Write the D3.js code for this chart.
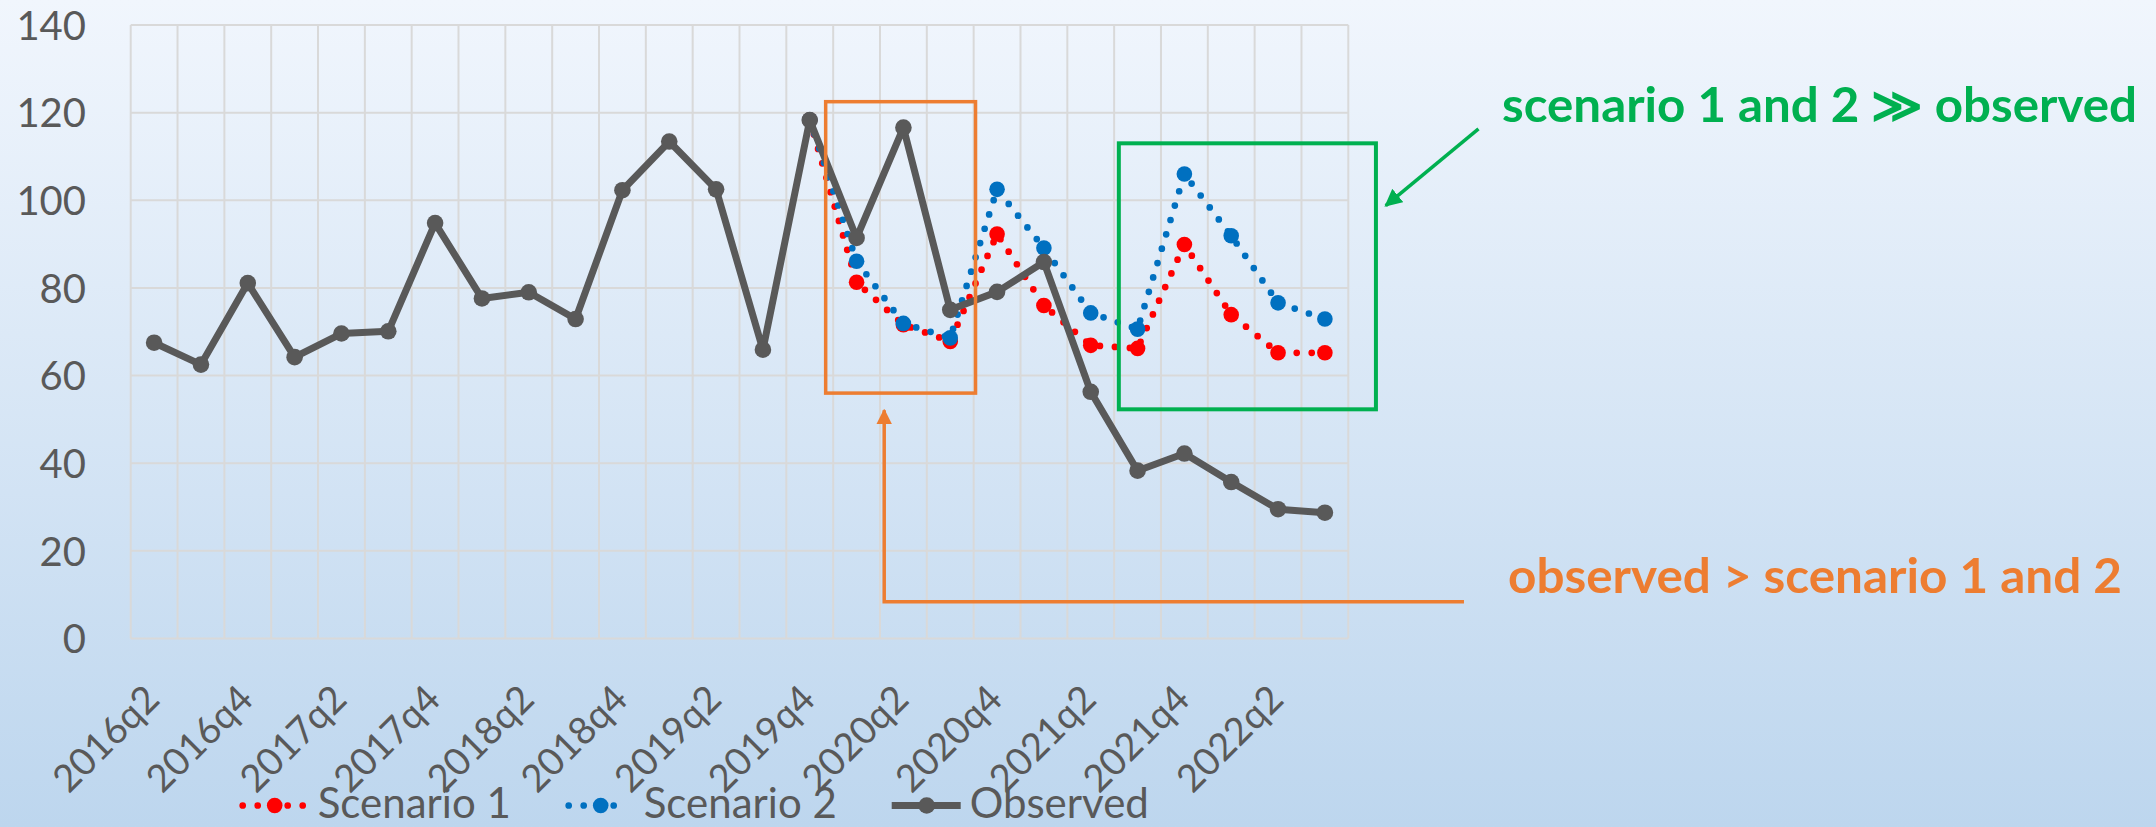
<!DOCTYPE html>
<html>
<head>
<meta charset="utf-8">
<script src="https://cdn.jsdelivr.net/npm/d3@7"></script>
<style>
  html, body { margin: 0; padding: 0; overflow: hidden; }
  svg { display: block; }
</style>
</head>
<body>
<script>
// ---------------- data ----------------
const categories = ['2016q2','2016q3','2016q4','2017q1','2017q2','2017q3','2017q4',
  '2018q1','2018q2','2018q3','2018q4','2019q1','2019q2','2019q3','2019q4',
  '2020q1','2020q2','2020q3','2020q4','2021q1','2021q2','2021q3','2021q4',
  '2022q1','2022q2','2022q3'];
const observed  = [67.5, 62.5, 81.1, 64.2, 69.6, 70.1, 94.8, 77.6, 79.0, 72.9, 102.3, 113.4, 102.5,
  65.9, 118.3, 91.4, 116.6, 75.0, 79.1, 85.9, 56.3, 38.3, 42.2, 35.7, 29.5, 28.7];
const scenario1 = [null,null,null,null,null,null,null,null,null,null,null,null,null,null,
  118.3, 81.3, 71.6, 67.8, 92.3, 76.0, 66.9, 66.2, 89.9, 73.9, 65.2, 65.2];
const scenario2 = [null,null,null,null,null,null,null,null,null,null,null,null,null,null,
  118.3, 86.1, 71.9, 68.6, 102.5, 89.1, 74.3, 70.6, 106.0, 91.9, 76.6, 72.9];
const yTicks = [0, 20, 40, 60, 80, 100, 120, 140];
const xTickLabels = categories.filter((d, i) => i % 2 === 0);
const seriesNames = ['Scenario 1', 'Scenario 2', 'Observed'];

// annotations in data units: x = category position (0..n), y = value
const orangeBox = {x0: 14.84, x1: 18.04, y0: 122.5, y1: 56.0};
const greenBox  = {x0: 21.10, x1: 26.59, y0: 113.0, y1: 52.3};
const orangeArrow = [[28.47, 8.4], [16.09, 8.4], [16.09, 52.1]];
const greenArrow  = [[28.78, 116.3], [26.80, 98.8]];

// ---------------- layout ----------------
const W = 2156, H = 827;
const plot = {left: 130.7, right: 1348.3, top: 25, bottom: 638.5};
const textColor = '#595959';
const font = 'Lato, Calibri, Carlito, sans-serif';

const svg = d3.select('body').append('svg').attr('width', W).attr('height', H);

const defs = svg.append('defs');
const grad = defs.append('linearGradient').attr('id', 'bg').attr('x1', 0).attr('y1', 0).attr('x2', 0).attr('y2', 1);
grad.append('stop').attr('offset', '0%').attr('stop-color', '#f1f6fd');
grad.append('stop').attr('offset', '100%').attr('stop-color', '#bdd6ee');
svg.append('rect').attr('width', W).attr('height', H).attr('fill', 'url(#bg)');

const xc = d3.scaleLinear().domain([0, categories.length]).range([plot.left, plot.right]);
const x = i => xc(i + 0.5);
const y = d3.scaleLinear().domain([0, 140]).range([plot.bottom, plot.top]);

// grid
const grid = svg.append('g').attr('stroke', '#d9d9d9').attr('stroke-width', 2);
grid.selectAll('line.h').data(yTicks).join('line')
  .attr('x1', plot.left).attr('x2', plot.right)
  .attr('y1', d => y(d)).attr('y2', d => y(d));
grid.selectAll('line.v').data(d3.range(categories.length + 1)).join('line')
  .attr('x1', d => xc(d)).attr('x2', d => xc(d))
  .attr('y1', plot.top).attr('y2', plot.bottom);

// y axis labels
const yAxis = d3.axisLeft(y).tickValues(yTicks).tickSize(0).tickPadding(0);
const gy = svg.append('g').attr('transform', `translate(86,0)`).call(yAxis);
gy.select('.domain').remove();
gy.selectAll('text').attr('font-family', font).attr('font-size', 40).attr('fill', textColor)
  .attr('dy', null).attr('dominant-baseline', 'auto').attr('y', 14.3);

// x axis labels
const xBand = d3.scalePoint().domain(categories).range([x(0), x(categories.length - 1)]);
const xAxis = d3.axisBottom(xBand).tickValues(xTickLabels).tickSize(0).tickPadding(0);
const gx = svg.append('g').attr('transform', `translate(0,${plot.bottom})`).call(xAxis);
gx.select('.domain').remove();
gx.selectAll('text').attr('font-family', font).attr('font-size', 38).attr('fill', textColor)
  .attr('text-anchor', 'end').attr('dy', null).attr('y', 0)
  .attr('transform', 'translate(7,63) rotate(-45)');

// lines
const lineGen = d3.line().defined(d => d != null).x((d, i) => x(i)).y(d => y(d));
const series = [
  {name: seriesNames[0], values: scenario1, color: '#ff0000', dotted: true, r: 7.8, w: 6.7},
  {name: seriesNames[1], values: scenario2, color: '#0070c0', dotted: true, r: 7.8, w: 6.7},
  {name: seriesNames[2], values: observed,  color: '#595959', dotted: false, r: 8.3, w: 7}
];
series.forEach(s => {
  const g = svg.append('g');
  g.append('path').attr('d', lineGen(s.values)).attr('fill', 'none')
    .attr('stroke', s.color).attr('stroke-width', s.w)
    .attr('stroke-linecap', 'round').attr('stroke-linejoin', 'round')
    .attr('stroke-dasharray', s.dotted ? '0 15' : null);
  g.selectAll('circle').data(s.values.map((v, i) => ({v, i})).filter(d => d.v != null)).join('circle')
    .attr('cx', d => x(d.i)).attr('cy', d => y(d.v)).attr('r', s.r).attr('fill', s.color);
});

// annotations
const orange = '#ed7d31', green = '#00b050';
svg.append('rect')
  .attr('x', xc(orangeBox.x0)).attr('y', y(orangeBox.y0))
  .attr('width', xc(orangeBox.x1) - xc(orangeBox.x0)).attr('height', y(orangeBox.y1) - y(orangeBox.y0))
  .attr('fill', 'none').attr('stroke', orange).attr('stroke-width', 3.5);
svg.append('rect')
  .attr('x', xc(greenBox.x0)).attr('y', y(greenBox.y0))
  .attr('width', xc(greenBox.x1) - xc(greenBox.x0)).attr('height', y(greenBox.y1) - y(greenBox.y0))
  .attr('fill', 'none').attr('stroke', green).attr('stroke-width', 4);

defs.append('marker').attr('id', 'ao').attr('viewBox', '0 0 10 10').attr('refX', 9).attr('refY', 5)
  .attr('markerWidth', 4.5).attr('markerHeight', 4.5).attr('orient', 'auto')
  .attr('markerUnits', 'strokeWidth')
  .append('path').attr('d', 'M0,0 L10,5 L0,10 Z').attr('fill', orange);
defs.append('marker').attr('id', 'ag').attr('viewBox', '0 0 10 10').attr('refX', 9).attr('refY', 5)
  .attr('markerWidth', 5).attr('markerHeight', 5).attr('orient', 'auto')
  .attr('markerUnits', 'strokeWidth')
  .append('path').attr('d', 'M0,0 L10,5 L0,10 Z').attr('fill', green);

const annLine = d3.line().x(d => xc(d[0])).y(d => y(d[1]));
svg.append('path').attr('d', annLine(orangeArrow)).attr('fill', 'none')
  .attr('stroke', orange).attr('stroke-width', 3.5).attr('marker-end', 'url(#ao)');
svg.append('path').attr('d', annLine(greenArrow)).attr('fill', 'none')
  .attr('stroke', green).attr('stroke-width', 3.5).attr('marker-end', 'url(#ag)');

svg.append('text').attr('x', 1502).attr('y', 121.5)
  .attr('font-family', font).attr('font-weight', 'bold').attr('font-size', 48).attr('fill', green)
  .attr('textLength', 635).attr('lengthAdjust', 'spacingAndGlyphs')
  .text('scenario 1 and 2 \u226B observed');
svg.append('text').attr('x', 1508).attr('y', 592.5)
  .attr('font-family', font).attr('font-weight', 'bold').attr('font-size', 48).attr('fill', orange)
  .attr('textLength', 614).attr('lengthAdjust', 'spacingAndGlyphs')
  .text('observed > scenario 1 and 2');

// legend
const legY = 805.5;
const leg = svg.append('g');
series.forEach((s, k) => {
  const x0 = 242.7 + 326 * k;
  const g = leg.append('g');
  if (s.dotted) {
    g.append('line').attr('x1', x0).attr('x2', x0 + 60).attr('y1', legY).attr('y2', legY)
      .attr('stroke', s.color).attr('stroke-width', s.w).attr('stroke-linecap', 'round')
      .attr('stroke-dasharray', '0 15');
  } else {
    g.append('line').attr('x1', x0 - 3).attr('x2', x0 + 66).attr('y1', legY).attr('y2', legY)
      .attr('stroke', s.color).attr('stroke-width', s.w);
  }
  g.append('circle').attr('cx', x0 + 32).attr('cy', legY).attr('r', s.r).attr('fill', s.color);
  g.append('text').attr('x', x0 + 75).attr('y', 818.3)
    .attr('font-family', font).attr('font-size', 42).attr('fill', textColor).text(s.name);
});
</script>
</body>
</html>
